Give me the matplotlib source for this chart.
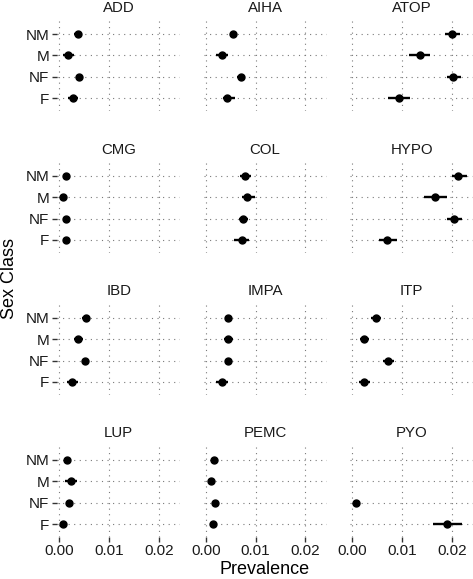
import numpy as np
import matplotlib
matplotlib.use("Agg")
import matplotlib.pyplot as plt

plt.rcParams['font.family'] = ['Liberation Sans', 'DejaVu Sans']

# data: one row per disease, columns follow `classes`
diseases = ["ADD", "AIHA", "ATOP", "CMG", "COL", "HYPO",
            "IBD", "IMPA", "ITP", "LUP", "PEMC", "PYO"]
classes = ["F", "NF", "M", "NM"]

prev = [
    [0.0028, 0.0040, 0.0018, 0.0037],
    [0.0043, 0.0070, 0.0032, 0.0055],
    [0.0094, 0.0203, 0.0135, 0.0201],
    [0.0013, 0.0013, 0.0008, 0.0013],
    [0.0072, 0.0075, 0.0082, 0.0078],
    [0.0070, 0.0205, 0.0167, 0.0213],
    [0.0025, 0.0052, 0.0038, 0.0054],
    [0.0032, 0.0045, 0.0045, 0.0045],
    [0.0024, 0.0072, 0.0024, 0.0047],
    [0.0008, 0.0020, 0.0023, 0.0016],
    [0.0015, 0.0018, 0.0011, 0.0017],
    [0.0191, 0.0007, np.nan, np.nan],
]
lower = [
    [0.0018, 0.0034, 0.0008, 0.0029],
    [0.0035, 0.0062, 0.0021, 0.0048],
    [0.0071, 0.0190, 0.0114, 0.0187],
    [0.0009, 0.0009, 0.0005, 0.0010],
    [0.0056, 0.0066, 0.0072, 0.0069],
    [0.0054, 0.0190, 0.0145, 0.0200],
    [0.0015, 0.0045, 0.0029, 0.0046],
    [0.0021, 0.0038, 0.0036, 0.0038],
    [0.0014, 0.0062, 0.0015, 0.0037],
    [0.0003, 0.0014, 0.0011, 0.0011],
    [0.0009, 0.0012, 0.0006, 0.0012],
    [0.0162, 0.0004, np.nan, np.nan],
]
upper = [
    [0.0038, 0.0047, 0.0030, 0.0045],
    [0.0058, 0.0078, 0.0045, 0.0062],
    [0.0116, 0.0218, 0.0157, 0.0217],
    [0.0017, 0.0017, 0.0011, 0.0017],
    [0.0087, 0.0084, 0.0099, 0.0090],
    [0.0089, 0.0220, 0.0191, 0.0230],
    [0.0038, 0.0060, 0.0048, 0.0062],
    [0.0045, 0.0053, 0.0055, 0.0052],
    [0.0036, 0.0083, 0.0034, 0.0057],
    [0.0015, 0.0027, 0.0035, 0.0022],
    [0.0022, 0.0024, 0.0017, 0.0023],
    [0.0221, 0.0010, np.nan, np.nan],
]
xticks = [0.00, 0.01, 0.02]

W, H = 473, 579
fig = plt.figure(figsize=(W / 100, H / 100), dpi=100)

col_left = [57, 203.5, 350]
row_top = [21.2, 163.2, 305.2, 447.2]
pw, ph = 123.3, 89.6
grid_kw = dict(color="#7a7a7a", lw=0.8, linestyle=(0, (1, 4)))

for i, name in enumerate(diseases):
    r, c = divmod(i, 3)
    ax = fig.add_axes([col_left[c] / W, 1 - (row_top[r] + ph) / H, pw / W, ph / H])
    y = np.arange(1, len(classes) + 1)
    for v in xticks:
        ax.axvline(v, zorder=0, **grid_kw)
    for yy in y:
        ax.axhline(yy, zorder=0, **grid_kw)
    est = np.array(prev[i])
    lo = np.array(lower[i])
    hi = np.array(upper[i])
    ax.hlines(y, lo, hi, color="black", lw=1.7, zorder=2)
    ax.plot(est, y, "o", color="black", ms=5, zorder=3)
    ax.set_xlim(-0.00046, 0.0243)
    ax.set_ylim(0.4, 4.6)
    for s in ax.spines.values():
        s.set_visible(False)
    ax.set_xticks(xticks)
    ax.set_yticks(y)
    ax.tick_params(colors="#333333", labelcolor="#1a1a1a", labelsize=11,
                   length=3.5, width=1.0, pad=2)
    if c == 0:
        ax.set_yticklabels(classes)
    else:
        ax.tick_params(axis="y", left=False, labelleft=False)
    if r == 3:
        ax.set_xticklabels(["%.2f" % v for v in xticks])
    else:
        ax.tick_params(axis="x", bottom=False, labelbottom=False)
    ax.text(0.5, 1 + 13.7 / ph, name, transform=ax.transAxes, ha="center",
            va="center", fontsize=10.8, color="#1a1a1a")

fig.text(265 / W, 1 - 570 / H, "Prevalence", ha="center", va="center", fontsize=13)
fig.text(9 / W, 1 - 279 / H, "Sex Class", ha="center", va="center",
         rotation=90, fontsize=13)

fig.savefig("out.png", dpi=100)
